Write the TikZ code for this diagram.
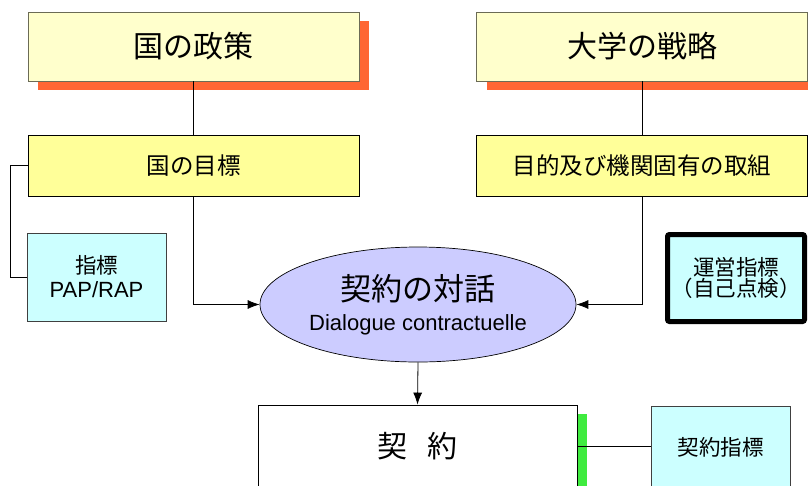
\documentclass[tikz,border=0pt]{standalone}
\usepackage{fontspec}
\setmainfont{Liberation Sans}
\newfontfamily\jp{Noto Sans CJK JP}
\usetikzlibrary{shapes.geometric,shadows,arrows.meta}

\definecolor{paleyellow}{HTML}{FFFFCC}
\definecolor{lightyellow}{HTML}{FFFF99}
\definecolor{shadoworange}{HTML}{FF6633}
\definecolor{shadowgreen}{HTML}{3FEB3F}
\definecolor{palecyan}{HTML}{CCFFFF}
\definecolor{lavender}{HTML}{CCCCFF}
\definecolor{olivegray}{HTML}{6B6B55}

\tikzset{
  policy/.style={draw=olivegray, line width=0.9pt, fill=paleyellow, inner sep=0pt,
    minimum width=331pt, minimum height=69pt,
    drop shadow={shadow xshift=10pt, shadow yshift=-9pt, fill=shadoworange, opacity=1},
    font=\jp\fontsize{30}{34}\selectfont},
  goal/.style={draw=black, line width=0.8pt, fill=lightyellow, inner sep=0pt,
    minimum width=331pt, minimum height=61pt, font=\jp\fontsize{23.5}{28}\selectfont},
  indicator/.style={draw=black!75, line width=0.8pt, fill=palecyan, inner sep=0pt,
    minimum width=139pt, minimum height=88pt, align=center},
  link/.style={draw=black, line width=0.8pt},
  arrow/.style={link, -{Latex[length=12pt,width=9pt]}}
}

\begin{document}
\begin{tikzpicture}[x=1pt,y=-1pt]
  \useasboundingbox (0,0) rectangle (808,485);
  % top row
  \node[policy] (seisaku) at (193.5,46.5) {国の政策};
  \node[policy] (senryaku) at (642,46.5) {大学の戦略};
  \node[goal] (mokuhyo) at (193.5,165.5) {国の目標};
  \node[goal] (torikumi) at (642,165.5) {目的及び機関固有の取組};
  % indicators
  \node[indicator, font=\fontsize{22}{24}\selectfont] (pap) at (96.5,277) {{\jp\fontsize{21.5}{24}\selectfont 指標}\\PAP/RAP};
  \node[indicator, draw=black, line width=5pt, rounded corners=2pt, minimum width=137pt, minimum height=87pt,
    font=\jp\fontsize{21.5}{21}\selectfont] (unei) at (736,278) {運営指標\\（自己点検）};
  % dialogue
  \node[ellipse, draw=black, line width=0.7pt, fill=lavender, inner sep=0pt,
    minimum width=316pt, minimum height=115pt, align=center, font=\fontsize{22}{30}\selectfont] (taiwa) at (418,304.5)
    {{\jp\fontsize{31}{30}\selectfont 契約の対話}\\Dialogue contractuelle};
  % contract
  \node[draw=black, line width=0.8pt, fill=white, inner sep=0pt, minimum width=319pt, minimum height=83pt,
    drop shadow={shadow xshift=10pt, shadow yshift=-9pt, fill=shadowgreen, opacity=1},
    font=\jp\fontsize{30}{32}\selectfont] (keiyaku) at (417.5,446.5) {契\hspace{20pt}約};
  \node[indicator, minimum height=82pt, font=\jp\fontsize{21.5}{24}\selectfont] (keiyakushihyo) at (720.5,447) {契約指標};
  % connectors
  \draw[link] (seisaku.south) -- (mokuhyo.north);
  \draw[link] (senryaku.south) -- (torikumi.north);
  \draw[link] (mokuhyo.west) -- ++(-17,0) |- (pap.west);
  \draw[arrow] (mokuhyo.south) |- (taiwa.west);
  \draw[arrow] (torikumi.south) |- (taiwa.east);
  \draw[arrow] (taiwa.south) -- (keiyaku.north);
  \draw[link] (keiyaku.east) -- (keiyaku.east -| keiyakushihyo.west);
\end{tikzpicture}
\end{document}
